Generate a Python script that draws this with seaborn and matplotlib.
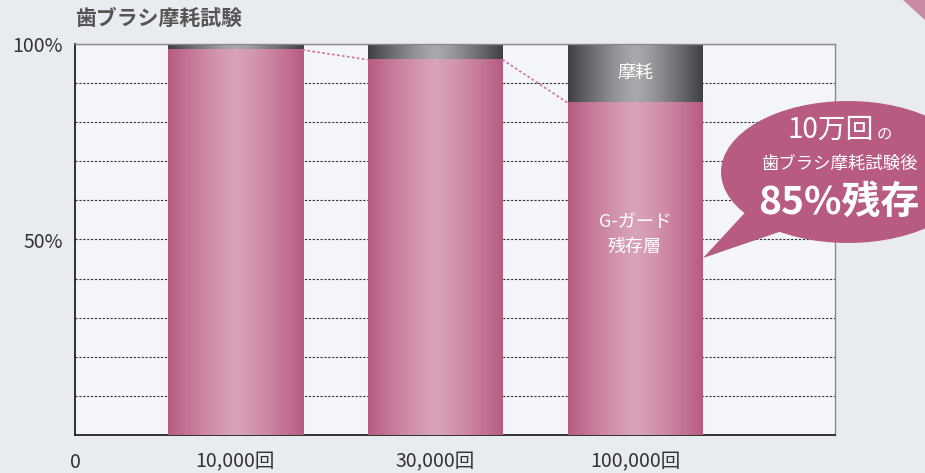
import numpy as np
import pandas as pd
import matplotlib
matplotlib.use("Agg")
import matplotlib.pyplot as plt
from matplotlib.patches import Ellipse, Polygon
import seaborn as sns

# データ
cycles = ["10,000回", "30,000回", "100,000回"]
remaining = [98.5, 96, 85]   # G-ガード残存層 (%)
total = [100, 100, 100]

sns.set_style("white")
plt.rcParams["font.family"] = ["Noto Sans CJK JP", "DejaVu Sans"]

df = pd.DataFrame({"cycle": cycles, "remaining": remaining, "total": total})

fig = plt.figure(figsize=(9.25, 4.73), dpi=100, facecolor="#e8ecf1")
ax = fig.add_axes([75 / 925, 1 - 435 / 473, 760 / 925, 391 / 473])
ax.set_facecolor("#f3f5f9")

# 摩耗部分 (100%) と残存層
sns.barplot(data=df, x="cycle", y="total", color="#555555", width=0.675, ax=ax, zorder=2)
sns.barplot(data=df, x="cycle", y="remaining", color="#b85b85", width=0.675, ax=ax, zorder=3)

# 横方向のグラデーションで塗り直す
grad = 1 - np.abs(np.linspace(-1, 1, 200)) ** 1.3
grad = grad.reshape(1, -1)
pink_cmap = matplotlib.colors.LinearSegmentedColormap.from_list("pk", ["#b85a84", "#d8a2b7"])
dark_cmap = matplotlib.colors.LinearSegmentedColormap.from_list("dk", ["#3e3f42", "#a9a9ad"])

n = len(cycles)
dark_patches = ax.patches[:n]
pink_patches = ax.patches[n:2 * n]
for p in dark_patches:
    x0, w, h = p.get_x(), p.get_width(), p.get_height()
    ax.imshow(grad, cmap=dark_cmap, extent=(x0, x0 + w, 0, h), aspect="auto", zorder=2.5)
    p.set_visible(False)
for p in pink_patches:
    x0, w, h = p.get_x(), p.get_width(), p.get_height()
    ax.imshow(grad, cmap=pink_cmap, extent=(x0, x0 + w, 0, h), aspect="auto", zorder=3.5)
    p.set_visible(False)

# バーの上端をつなぐ点線
for i in range(n - 1):
    a, b = pink_patches[i], pink_patches[i + 1]
    ax.plot([a.get_x() + a.get_width(), b.get_x()], [a.get_height(), b.get_height()],
            color="#d36b95", lw=1.2, ls=(0, (1.5, 1.5)), zorder=4)

ax.set_xlim(-0.8, 3.0)
ax.set_ylim(0, 100)

ax.set_yticks(range(0, 101, 10))
ax.set_yticklabels(["" if v not in (50, 100) else f"{v}%" for v in range(0, 101, 10)],
                   fontsize=14, color="#333333")
ax.yaxis.grid(True, color="#333333", ls=(0, (2, 1.5)), lw=0.8)
ax.set_axisbelow(True)
ax.set_xticks([-0.8, 0, 1, 2])
ax.set_xticklabels(["0"] + cycles, fontsize=14, color="#333333")
ax.tick_params(axis="x", length=0, pad=12)
ax.tick_params(axis="y", length=0, pad=9)
ax.set_xlabel("")
ax.set_ylabel("")

for s in ["left", "bottom"]:
    ax.spines[s].set_color("#222222")
    ax.spines[s].set_linewidth(1.3)
for s in ["top", "right"]:
    ax.spines[s].set_color("#8a8a8a")
    ax.spines[s].set_linewidth(1.0)

# バー内のラベル
last = pink_patches[-1]
cx = last.get_x() + last.get_width() / 2
ax.text(cx, (100 + remaining[-1]) / 2, "摩耗", ha="center", va="center", color="white",
        fontsize=13, zorder=6)
ax.text(cx, 54.5, "G-ガード", ha="center", va="center", color="white", fontsize=13, zorder=6)
ax.text(cx, 48.0, "残存層", ha="center", va="center", color="white", fontsize=13, zorder=6)

# タイトル
fig.text(75 / 925, 1 - 18 / 473, "歯ブラシ摩耗試験", fontsize=15, fontweight="bold",
         color="#555555", ha="left", va="center")

# 吹き出し
bubble_c = "#b85b82"
def fxy(px, py):
    return (px / 925, 1 - py / 473)

fig.patches.append(Ellipse(fxy(848, 172), 254 / 925, 142 / 473, transform=fig.transFigure,
                           facecolor=bubble_c, edgecolor="none", zorder=10))
fig.patches.append(Polygon([fxy(752, 205), fxy(703, 258), fxy(785, 230)], closed=True,
                           transform=fig.transFigure, facecolor=bubble_c, edgecolor="none",
                           zorder=10))
fig.text(*fxy(831, 130), "10万回", fontsize=20, color="white", ha="center", va="center", zorder=11)
fig.text(*fxy(877, 135), "の", fontsize=11, color="white", ha="left", va="center", zorder=11)
fig.text(*fxy(839, 164), "歯ブラシ摩耗試験後", fontsize=12.5, color="white", ha="center",
         va="center", zorder=11)
fig.text(*fxy(839, 202), "85%残存", fontsize=28, fontweight="bold", color="white", ha="center",
         va="center", zorder=11)

# 右上の飾り
fig.patches.append(Polygon([fxy(903, 0), fxy(925, 0), fxy(925, 20)], closed=True,
                           transform=fig.transFigure, facecolor="#c98aa6", edgecolor="none",
                           zorder=1))

fig.savefig("out.png", dpi=100, facecolor=fig.get_facecolor())
